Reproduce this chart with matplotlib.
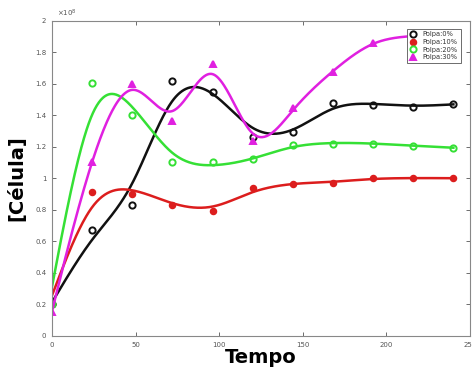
import numpy as np
import matplotlib
matplotlib.use("Agg")
import matplotlib.pyplot as plt
from matplotlib.ticker import FuncFormatter

# ---- data (cells, units of 1e8) ----
tempo = [0, 24, 48, 72, 96, 120, 144, 168, 192, 216, 240]
polpa_0 = [0.20, 0.67, 0.83, 1.615, 1.545, 1.264, 1.293, 1.48, 1.463, 1.454, 1.471]
polpa_10 = [0.20, 0.915, 0.90, 0.83, 0.79, 0.94, 0.963, 0.97, 1.00, 1.00, 1.00]
polpa_20 = [0.20, 1.604, 1.40, 1.10, 1.10, 1.12, 1.21, 1.22, 1.22, 1.205, 1.194]
polpa_30 = [0.15, 1.10, 1.596, 1.365, 1.727, 1.235, 1.448, 1.676, 1.856, 1.90, 1.92]
labels = ["Polpa:0%", "Polpa:10%", "Polpa:20%", "Polpa:30%"]


def smoothing_spline(x, y, alpha, xe):
    x = np.asarray(x, float)
    y = np.asarray(y, float)
    n = len(x)
    h = np.diff(x)
    Q = np.zeros((n, n - 2))
    R = np.zeros((n - 2, n - 2))
    for j in range(1, n - 1):
        c = j - 1
        Q[j - 1, c] = 1.0 / h[j - 1]
        Q[j, c] = -1.0 / h[j - 1] - 1.0 / h[j]
        Q[j + 1, c] = 1.0 / h[j]
        R[c, c] = (h[j - 1] + h[j]) / 3.0
        if c + 1 < n - 2:
            R[c, c + 1] = h[j] / 6.0
            R[c + 1, c] = h[j] / 6.0
    K = Q @ np.linalg.solve(R, Q.T)
    g = np.linalg.solve(np.eye(n) + alpha * K, y)
    gam = np.zeros(n)
    gam[1:-1] = np.linalg.solve(R, Q.T @ g)
    out = np.empty_like(xe)
    idx = np.clip(np.searchsorted(x, xe, side="right") - 1, 0, n - 2)
    for k, (xv, i) in enumerate(zip(xe, idx)):
        hi = h[i]
        a = xv - x[i]
        b = x[i + 1] - xv
        out[k] = (a * g[i + 1] + b * g[i]) / hi - a * b / 6.0 * (
            (1 + a / hi) * gam[i + 1] + (1 + b / hi) * gam[i])
    return out


alphas = [1000.0, 1200.0, 1000.0, 170.0]

fig = plt.figure(figsize=(4.72, 3.67), dpi=100)
ax = fig.add_axes([0.110, 0.0845, 0.886, 0.8595])

colors = ["#111111", "#dc1d1d", "#35e035", "#e020e0"]
markers = ["o", "o", "o", "^"]
series = [polpa_0, polpa_10, polpa_20, polpa_30]
xe = np.linspace(0, 240, 600)
for ys, c, m, lab, al in zip(series, colors, markers, labels, alphas):
    fc = c if m == "^" or c == "#dc1d1d" else "none"
    ms = 4 if c == "#dc1d1d" else 4.5
    ax.plot(tempo, ys, linestyle="none", marker=m, color=c, mfc=fc, mec=c,
            ms=ms, mew=1.4, label=lab)
    ax.plot(xe, smoothing_spline(tempo, ys, al, xe), color=c, lw=1.8)

ax.set_xlim(0, 250)
ax.set_ylim(0, 2)
ax.set_xticks([0, 50, 100, 150, 200, 250])
ax.set_yticks(np.arange(0, 2.01, 0.2))
ax.yaxis.set_major_formatter(FuncFormatter(lambda v, p: "%g" % round(v, 1)))
ax.tick_params(direction="in", length=3, width=0.6, labelsize=5,
               colors="#555555", top=True, right=True, pad=4)
for s in ax.spines.values():
    s.set_color("#888888")
    s.set_linewidth(0.8)

ax.text(0.012, 1.005, r"$\times10^8$", transform=ax.transAxes, fontsize=5,
        color="#555555", ha="left", va="bottom")

ax.set_xlabel("Tempo", fontsize=14, fontweight="bold", labelpad=0)
ax.set_ylabel("[Célula]", fontsize=14, fontweight="bold", labelpad=6)

leg = ax.legend(loc="upper right", fontsize=4.8, frameon=True, fancybox=False,
                edgecolor="#555555", borderpad=0.4, handlelength=1.2,
                handletextpad=0.8, labelspacing=0.25,
                bbox_to_anchor=(0.985, 0.985))
leg.get_frame().set_linewidth(0.6)
leg.get_frame().set_alpha(1.0)
for t in leg.get_texts():
    t.set_color("#333333")

fig.savefig("out.png", dpi=100)
